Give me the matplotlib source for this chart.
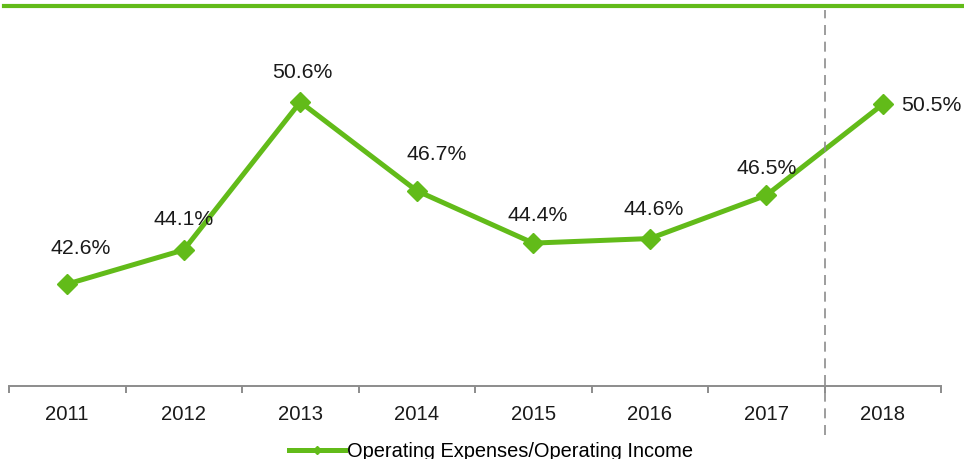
import matplotlib.pyplot as plt
from matplotlib.lines import Line2D

years = ["2011", "2012", "2013", "2014", "2015", "2016", "2017", "2018"]
ratio = [42.6, 44.1, 50.6, 46.7, 44.4, 44.6, 46.5, 50.5]
series_name = "Operating Expenses/Operating Income"

green = "#62BB19"
grey = "#8C8C8C"

plt.rcParams["font.family"] = ["Liberation Sans", "DejaVu Sans"]

fig = plt.figure(figsize=(9.64, 4.6), dpi=100)
ax = fig.add_axes([9 / 964, 73 / 460, 932 / 964, 380 / 460])

x = list(range(len(years)))
ax.plot(x, ratio, color=green, lw=3.6, marker="D", markersize=10.5,
        label=series_name, solid_joinstyle="miter")

# label offsets in pixels (dx, dy, ha)
offsets = [(13, 37, "center"), (0, 31, "center"), (2, 31, "center"),
           (20, 37, "center"), (4, 29, "center"), (4, 30, "center"),
           (0, 28, "center"), (18, 0, "left")]
for i, (v, (dx, dy, ha)) in enumerate(zip(ratio, offsets)):
    ax.annotate(f"{v:.1f}%", (i, v), xytext=(dx / 1.389, dy / 1.389),
                textcoords="offset points", ha=ha, va="center", fontsize=15.3,
                color="#1a1a1a")

ax.set_xlim(-0.5, len(years) - 0.5)
ax.set_ylim(38.12, 54.82)
ax.axvline(6.5, color=grey, lw=1.2, ls=(0, (6, 4)), ymin=-0.13, ymax=0.99,
           clip_on=False)

for s in ["top", "left", "right"]:
    ax.spines[s].set_visible(False)
ax.spines["bottom"].set_color(grey)
ax.spines["bottom"].set_linewidth(1.4)
ax.set_yticks([])
ax.set_xticks([i - 0.5 for i in range(len(years) + 1)], minor=False)
ax.set_xticklabels([])
ax.tick_params(axis="x", which="major", length=5, width=1.4, color=grey)
ax.set_xticks(x, minor=True)
ax.set_xticklabels(years, minor=True, fontsize=14.6, color="#1a1a1a")
ax.tick_params(axis="x", which="minor", length=0, pad=13)

fig.add_artist(Line2D([4 / 964, 1.0], [453 / 460, 453 / 460], color=green,
                      lw=3.0, transform=fig.transFigure))

handle = Line2D([], [], color=green, lw=3.6, marker="D", markersize=4)
fig.legend([handle], [series_name], loc="center", frameon=False,
           bbox_to_anchor=(491 / 964, 8 / 460), fontsize=14.4,
           handlelength=2.8, handletextpad=0.1, borderpad=0)

fig.savefig("out.png", dpi=100)
